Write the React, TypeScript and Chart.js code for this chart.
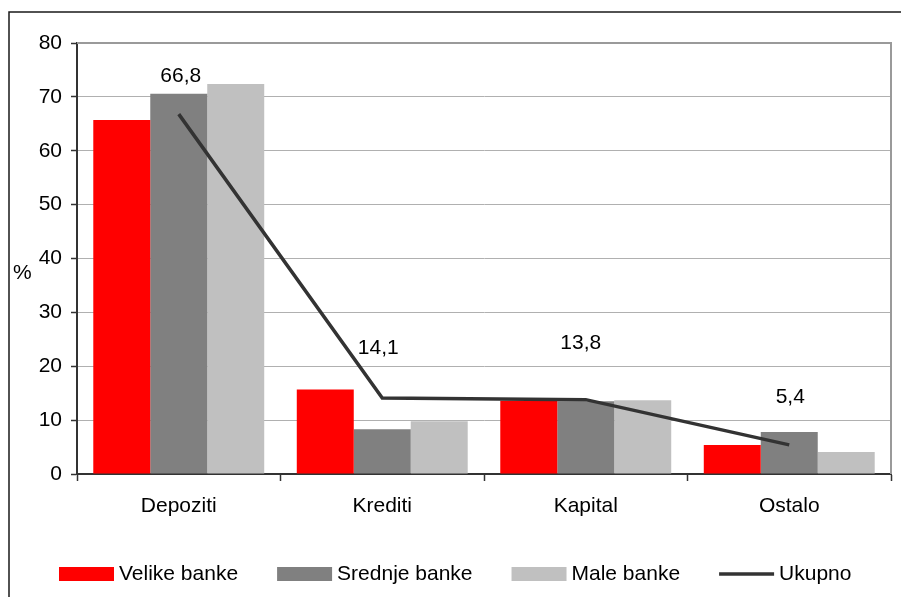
import React, { useEffect, useRef } from "react";
import { Chart, registerables } from "chart.js";

Chart.register(...registerables);

const categories = ["Depoziti", "Krediti", "Kapital", "Ostalo"];
const velikeBanke = [65.7, 15.7, 13.6, 5.4];
const srednjeBanke = [70.6, 8.3, 13.5, 7.8];
const maleBanke = [72.4, 9.8, 13.7, 4.1];
const ukupno = [66.8, 14.1, 13.8, 5.4];
const ukupnoLabels = ["66,8", "14,1", "13,8", "5,4"];
const yTicks = [0, 10, 20, 30, 40, 50, 60, 70, 80];

const FONT = "'Liberation Sans', Arial, sans-serif";

const framePlugin = {
  id: "frame",
  beforeDraw(chart: any) {
    const ctx = chart.ctx;
    ctx.save();
    ctx.fillStyle = "#ffffff";
    ctx.fillRect(0, 0, chart.width, chart.height);
    ctx.strokeStyle = "#1a1a1a";
    ctx.lineWidth = 1.5;
    ctx.beginPath();
    ctx.moveTo(9, chart.height + 5);
    ctx.lineTo(9, 12);
    ctx.lineTo(chart.width + 5, 12);
    ctx.stroke();
    ctx.restore();
  },
  afterDatasetsDraw(chart: any) {
    const ctx = chart.ctx;
    const a = chart.chartArea;
    ctx.save();
    ctx.strokeStyle = "#9a9a9a";
    ctx.lineWidth = 2;
    ctx.beginPath();
    ctx.moveTo(a.left, a.top);
    ctx.lineTo(a.right, a.top);
    ctx.lineTo(a.right, a.bottom);
    ctx.stroke();

    const meta = chart.getDatasetMeta(0);
    const dy = [38, 50, 56, 48];
    const dx = [2, -4, -5, 1];
    ctx.fillStyle = "#000";
    ctx.font = `21px ${FONT}`;
    ctx.textAlign = "center";
    ctx.textBaseline = "middle";
    meta.data.forEach((pt: any, i: number) => {
      ctx.fillText(ukupnoLabels[i], pt.x + dx[i], pt.y - dy[i]);
    });

    ctx.textAlign = "left";
    ctx.fillText("%", 13, 273);

    const items = [
      { label: "Velike banke", color: "#ff0000", line: false },
      { label: "Srednje banke", color: "#808080", line: false },
      { label: "Male banke", color: "#c0c0c0", line: false },
      { label: "Ukupno", color: "#333333", line: true },
    ];
    let x = 59;
    const cy = 574;
    items.forEach((it) => {
      if (it.line) {
        ctx.strokeStyle = it.color;
        ctx.lineWidth = 3.5;
        ctx.beginPath();
        ctx.moveTo(x, cy);
        ctx.lineTo(x + 55, cy);
        ctx.stroke();
      } else {
        ctx.fillStyle = it.color;
        ctx.fillRect(x, cy - 7, 55, 14);
      }
      ctx.fillStyle = "#000";
      ctx.fillText(it.label, x + 60, cy);
      x += 60 + ctx.measureText(it.label).width + 39;
    });
    ctx.restore();
  },
};

export default function App() {
  const ref = useRef<HTMLCanvasElement | null>(null);
  useEffect(() => {
    if (!ref.current) return;
    const chart = new Chart(ref.current, {
      type: "bar",
      data: {
        labels: categories,
        datasets: [
          {
            type: "line",
            label: "Ukupno",
            data: ukupno,
            borderColor: "#333333",
            borderWidth: 3.5,
            pointRadius: 0,
            tension: 0,
            order: 0,
          } as any,
          {
            label: "Velike banke",
            data: velikeBanke,
            backgroundColor: "#ff0000",
            categoryPercentage: 0.84,
            barPercentage: 1,
            order: 1,
          },
          {
            label: "Srednje banke",
            data: srednjeBanke,
            backgroundColor: "#808080",
            categoryPercentage: 0.84,
            barPercentage: 1,
            order: 1,
          },
          {
            label: "Male banke",
            data: maleBanke,
            backgroundColor: "#c0c0c0",
            categoryPercentage: 0.84,
            barPercentage: 1,
            order: 1,
          },
        ],
      },
      options: {
        responsive: false,
        animation: false,
        layout: { padding: { left: 0, top: 43, right: 10, bottom: 0 } },
        plugins: {
          legend: { display: false },
          title: { display: false },
          tooltip: { enabled: false },
        },
        scales: {
          x: {
            grid: {
              offset: true,
              drawOnChartArea: false,
              drawTicks: true,
              tickLength: 7,
              tickColor: "#333333",
              tickWidth: 1.5,
            },
            border: { color: "#333333", width: 2 },
            ticks: {
              color: "#000",
              font: { family: FONT, size: 21 },
              padding: 13,
              maxRotation: 0,
            },
            afterFit(scale: any) {
              scale.height = 123;
            },
          },
          y: {
            min: 0,
            max: 80,
            afterBuildTicks(scale: any) {
              scale.ticks = yTicks.map((v) => ({ value: v }));
            },
            grid: {
              color: "#b0b0b0",
              lineWidth: 1,
              tickLength: 6,
              tickColor: "#333333",
              tickWidth: 1.5,
            },
            border: { color: "#333333", width: 2 },
            ticks: {
              color: "#000",
              font: { family: FONT, size: 21 },
              padding: 9,
            },
            afterFit(scale: any) {
              scale.width = 77;
            },
          },
        },
      },
      plugins: [framePlugin],
    });
    return () => chart.destroy();
  }, []);
  return (
    <div style={{ position: "fixed", left: 0, top: 0, width: 901, height: 597 }}>
      <canvas ref={ref} width={901} height={597} />
    </div>
  );
}
